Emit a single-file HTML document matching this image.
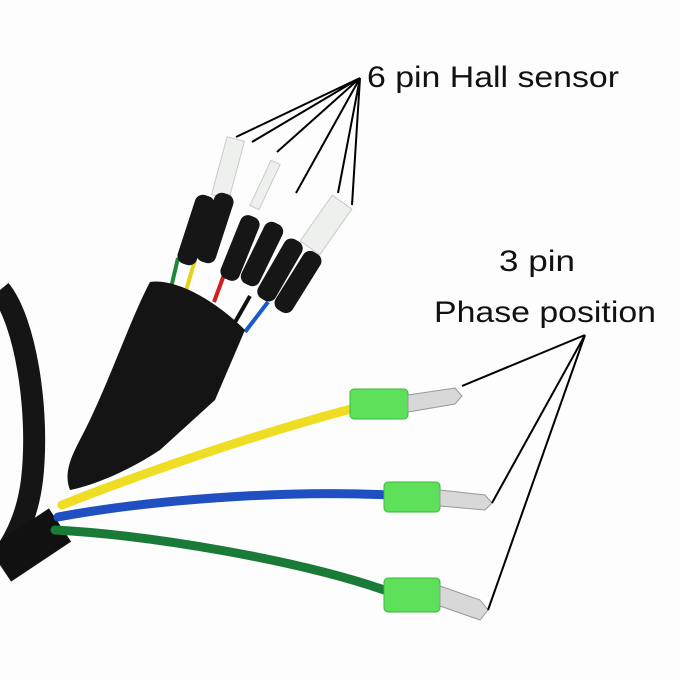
<!DOCTYPE html>
<html><head><style>
html,body{margin:0;padding:0;background:#fff;}
svg{display:block}
text{font-family:"Liberation Sans",sans-serif;fill:#111}
</style></head><body>
<svg width="680" height="680" viewBox="0 0 680 680" xmlns="http://www.w3.org/2000/svg">
<rect width="680" height="680" fill="#fdfdfd"/>
<path d="M0,290 C25,320 40,410 32,480 C27,520 12,545 0,560" fill="none" stroke="#151515" stroke-width="22"/>
<path d="M0,565 L60,525" stroke="#111" stroke-width="40" fill="none"/>
<g stroke-width="4" fill="none">
<path d="M178,258 L170,292" stroke="#1a8a3a"/>
<path d="M195,260 L185,294" stroke="#e6d21a"/>
<path d="M225,272 L214,302" stroke="#d02020"/>
<path d="M250,296 L234,324" stroke="#111"/>
<path d="M268,302 L245,332" stroke="#1a5ad0"/>
</g>
<path d="M150,282 C175,278 215,300 245,330 L215,400 L160,450 C130,470 95,485 70,490 C62,470 75,450 85,430 C110,380 130,320 150,282 Z" fill="#141414"/>
<g fill="none" stroke-width="9" stroke-linecap="round">
<path d="M55,530 C150,535 300,560 390,592" stroke="#1a7a38"/>
<path d="M58,517 C150,500 280,490 390,495" stroke="#1f4fc0"/>
<path d="M62,505 C150,470 270,430 355,408" stroke="#eedd22"/>
</g>
<g fill="#eef0ee" stroke="#c8cac8" stroke-width="1">
<rect x="-9" y="-30" width="18" height="60" transform="translate(228,168) rotate(15)"/>
<rect x="-5" y="-25" width="10" height="50" transform="translate(265,185) rotate(25)"/>
<rect x="-12" y="-28" width="24" height="56" transform="translate(326,225) rotate(35)"/>
</g>
<g fill="#161616">
<rect x="-10" y="-36" width="20" height="72" rx="8" transform="translate(196,230) rotate(18)"/>
<rect x="-10" y="-36" width="20" height="72" rx="8" transform="translate(215,228) rotate(18)"/>
<rect x="-10" y="-34" width="20" height="68" rx="8" transform="translate(240,248) rotate(22)"/>
<rect x="-10" y="-34" width="20" height="68" rx="8" transform="translate(262,254) rotate(26)"/>
<rect x="-10" y="-34" width="20" height="68" rx="8" transform="translate(280,270) rotate(30)"/>
<rect x="-10" y="-34" width="20" height="68" rx="8" transform="translate(298,282) rotate(32)"/>
</g>
<g fill="#5ee05a" stroke="#3cb83a">
<rect x="350" y="389" width="58" height="30" rx="4"/>
<rect x="384" y="482" width="56" height="30" rx="4"/>
<rect x="384" y="578" width="56" height="34" rx="4"/>
</g>
<g fill="#d8d8d8" stroke="#999">
<path d="M408,395 L455,388 L462,396 L455,404 L408,412 Z"/>
<path d="M440,490 L485,495 L492,503 L485,510 L440,506 Z"/>
<path d="M440,586 L480,600 L488,610 L480,620 L440,606 Z"/>
</g>
<g stroke="#000" stroke-width="2" fill="none">
<path d="M360,78 L236,137 M360,78 L252,142 M360,78 L277,152 M360,78 L296,193 M360,78 L338,193 M360,78 L352,205"/>
<path d="M585,335 L462,386 M585,335 L492,503 M585,335 L488,610"/>
</g>
<text x="367" y="87" font-size="30" textLength="252" lengthAdjust="spacingAndGlyphs">6 pin Hall sensor</text>
<text x="499" y="271" font-size="30" textLength="76" lengthAdjust="spacingAndGlyphs">3 pin</text>
<text x="434" y="322" font-size="30" textLength="222" lengthAdjust="spacingAndGlyphs">Phase position</text>
</svg>
</body></html>
